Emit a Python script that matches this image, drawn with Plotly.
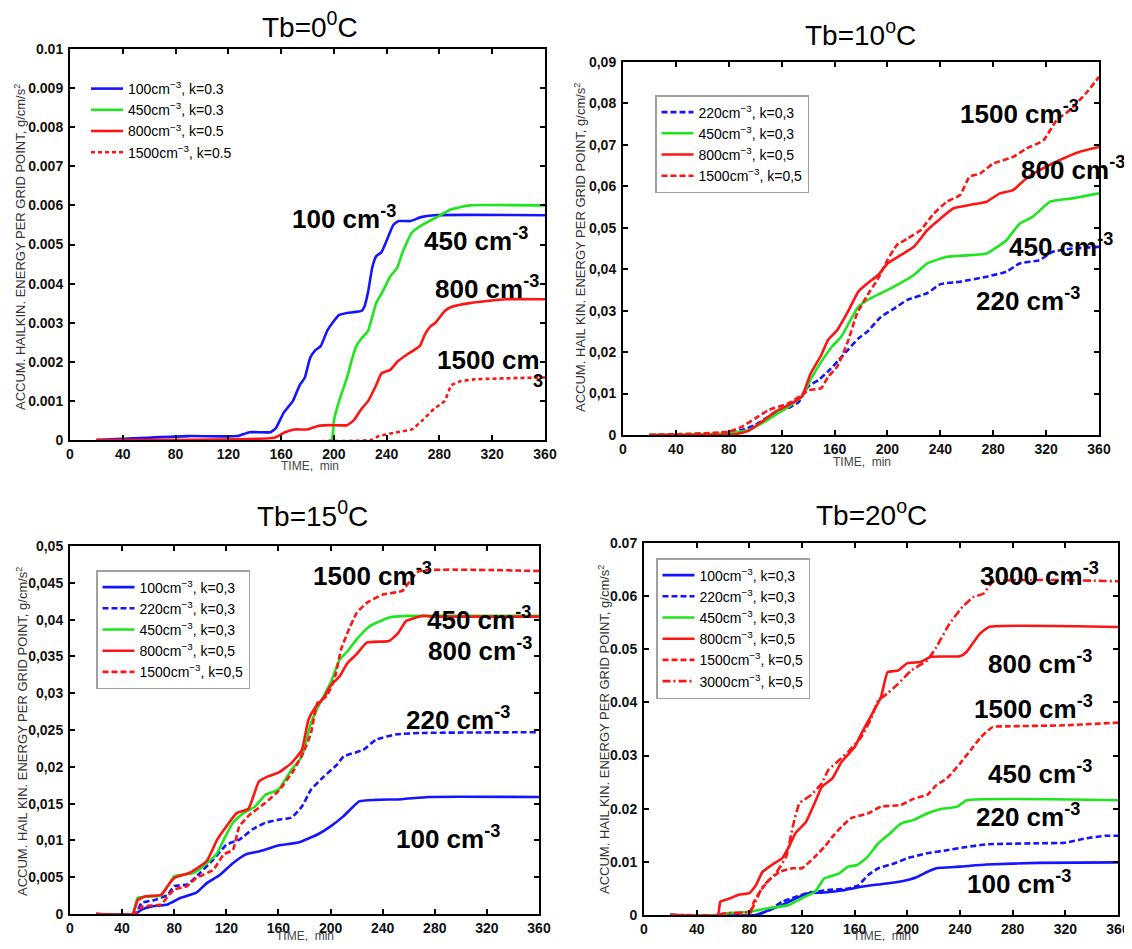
import plotly.graph_objects as go

# Figure size chosen so the page (with the browser's default 8px body margin) fits the 1132x949 window
FW, FH, OFF = 1124, 933, 8
FONT = "Arial, Liberation Sans, sans-serif"
BLUE, GREEN, RED = "#1414ff", "#1ee61e", "#ff1414"

# ---------------- DATA ----------------
# Panel 1: Tb=0C
p1_t_100 = [20, 90, 127, 136, 152, 156, 162, 169, 174, 178, 182, 186, 190, 195, 199, 204, 210, 221, 223, 226, 229, 232, 236, 240, 245, 249, 258, 266, 276, 360]
p1_v_100 = [0, 0.0001, 0.0001, 0.0002, 0.0002, 0.0003, 0.0007, 0.001, 0.0014, 0.0016, 0.0021, 0.0023, 0.0024, 0.0028, 0.003, 0.0032, 0.00325, 0.0033, 0.0034, 0.0038, 0.0044, 0.0047, 0.0048, 0.0051, 0.0055, 0.0056, 0.0056, 0.0057, 0.00575, 0.00575]
p1_t_450 = [20, 198, 200, 204, 210, 214, 217, 221, 226, 232, 237, 243, 248, 252, 259, 267, 278, 289, 303, 360]
p1_v_450 = [0, 0, 0.0005, 0.001, 0.0016, 0.0021, 0.0024, 0.0026, 0.0028, 0.0035, 0.0038, 0.0042, 0.0044, 0.0048, 0.0053, 0.0055, 0.0057, 0.0059, 0.006, 0.006]
p1_t_800 = [20, 155, 163, 170, 180, 188, 196, 210, 215, 221, 226, 232, 236, 243, 248, 256, 265, 269, 273, 277, 284, 289, 303, 330, 360]
p1_v_800 = [0, 0.00006, 0.0002, 0.00027, 0.00027, 0.00036, 0.00038, 0.00038, 0.0005, 0.0008, 0.001, 0.0014, 0.0017, 0.0018, 0.002, 0.0022, 0.0024, 0.0027, 0.0029, 0.003, 0.0033, 0.0034, 0.0035, 0.0036, 0.0036]
p1_t_1500 = [20, 228, 234, 248, 259, 267, 276, 284, 289, 296, 306, 360]
p1_v_1500 = [0, 0, 0.0001, 0.0002, 0.00027, 0.0005, 0.0008, 0.001, 0.0014, 0.0015, 0.00155, 0.0016]

# Panel 2: Tb=10C
p2_t_220 = [20, 70, 90, 100, 110, 120, 127, 133, 140, 148, 155, 163, 170, 178, 185, 195, 205, 215, 230, 240, 255, 275, 290, 300, 315, 325, 340, 360]
p2_v_220 = [0, 0.0003, 0.0012, 0.0024, 0.0044, 0.006, 0.0068, 0.008, 0.0117, 0.0133, 0.0153, 0.018, 0.0205, 0.0233, 0.025, 0.0285, 0.0305, 0.0326, 0.0342, 0.0364, 0.037, 0.0382, 0.0394, 0.0414, 0.0422, 0.0442, 0.045, 0.0454]
p2_t_450 = [20, 80, 95, 105, 115, 125, 135, 143, 150, 158, 165, 172, 178, 185, 195, 205, 220, 230, 245, 275, 290, 300, 310, 323, 340, 360]
p2_v_450 = [0, 0.0004, 0.0012, 0.0028, 0.0048, 0.0068, 0.0092, 0.014, 0.0177, 0.0213, 0.0237, 0.0277, 0.0309, 0.0326, 0.0342, 0.0358, 0.0386, 0.0414, 0.043, 0.0438, 0.047, 0.051, 0.0527, 0.0563, 0.0571, 0.0583]
p2_t_800 = [20, 85, 95, 105, 115, 125, 135, 142, 150, 155, 162, 170, 178, 185, 193, 200, 210, 220, 230, 240, 250, 262, 275, 285, 295, 305, 315, 330, 345, 360]
p2_v_800 = [0, 0.0002, 0.001, 0.0032, 0.0056, 0.0072, 0.0092, 0.0149, 0.0193, 0.0229, 0.0253, 0.0297, 0.0346, 0.0366, 0.0386, 0.0414, 0.0434, 0.0454, 0.0494, 0.0522, 0.0547, 0.0555, 0.0563, 0.0583, 0.0591, 0.0619, 0.0639, 0.0663, 0.0683, 0.0695]
p2_t_1500 = [20, 80, 90, 100, 110, 125, 135, 140, 150, 155, 162, 170, 177, 185, 193, 200, 207, 215, 225, 235, 245, 255, 262, 270, 280, 295, 305, 318, 328, 338, 350, 360]
p2_v_1500 = [0, 0.0008, 0.002, 0.004, 0.006, 0.0076, 0.0096, 0.0108, 0.0113, 0.014, 0.0165, 0.0225, 0.0293, 0.0338, 0.0378, 0.0422, 0.0458, 0.0474, 0.0494, 0.0534, 0.0563, 0.0579, 0.0623, 0.0631, 0.0655, 0.0671, 0.0691, 0.0711, 0.076, 0.0784, 0.0824, 0.0864]

# Panel 3: Tb=15C
p3_t_100 = [20, 50, 55, 62, 75, 85, 97, 105, 115, 125, 135, 145, 160, 175, 190, 200, 210, 222, 235, 255, 275, 360]
p3_v_100 = [0, 0, 0.0006, 0.001, 0.0013, 0.0022, 0.0029, 0.0042, 0.0053, 0.0069, 0.0081, 0.0085, 0.0093, 0.0097, 0.0108, 0.0119, 0.0133, 0.0153, 0.0155, 0.0156, 0.0159, 0.0159]
p3_t_220 = [20, 50, 55, 65, 75, 80, 90, 100, 110, 120, 130, 140, 150, 160, 170, 178, 185, 195, 205, 210, 225, 235, 250, 270, 360]
p3_v_220 = [0, 0, 0.0015, 0.0019, 0.0026, 0.0038, 0.004, 0.0056, 0.0074, 0.0094, 0.0101, 0.0115, 0.0124, 0.0128, 0.0131, 0.0146, 0.0169, 0.0187, 0.0203, 0.0214, 0.0223, 0.0237, 0.0244, 0.0246, 0.0247]
p3_t_450 = [20, 48, 52, 70, 75, 80, 95, 105, 113, 118, 125, 133, 142, 150, 160, 170, 178, 185, 192, 200, 207, 213, 220, 230, 245, 260, 360]
p3_v_450 = [0, 0, 0.0022, 0.0025, 0.0038, 0.0051, 0.0056, 0.0069, 0.0083, 0.0101, 0.0124, 0.0137, 0.0146, 0.0162, 0.0169, 0.0196, 0.0214, 0.026, 0.0287, 0.0314, 0.0346, 0.0357, 0.0373, 0.0391, 0.0403, 0.0405, 0.0405]
p3_t_800 = [20, 48, 52, 58, 70, 75, 80, 92, 105, 113, 120, 128, 137, 145, 152, 160, 170, 178, 183, 188, 195, 200, 207, 213, 220, 228, 245, 252, 258, 270, 280, 360]
p3_v_800 = [0, 0, 0.0019, 0.0024, 0.0026, 0.0038, 0.0049, 0.0056, 0.0072, 0.0101, 0.0119, 0.0137, 0.0143, 0.018, 0.0187, 0.0192, 0.0205, 0.0223, 0.0264, 0.028, 0.0294, 0.031, 0.0323, 0.0341, 0.0353, 0.0369, 0.0371, 0.0382, 0.0398, 0.0405, 0.0404, 0.0404]
p3_t_1500 = [20, 50, 55, 70, 75, 80, 90, 97, 110, 118, 125, 130, 138, 150, 160, 172, 180, 185, 190, 197, 203, 208, 213, 220, 228, 240, 255, 262, 268, 360]
p3_v_1500 = [0, 0, 0.001, 0.0013, 0.0024, 0.0033, 0.0038, 0.0049, 0.006, 0.0081, 0.0087, 0.0119, 0.0135, 0.0151, 0.0167, 0.0196, 0.0223, 0.0246, 0.0287, 0.0296, 0.0319, 0.0359, 0.0382, 0.0409, 0.0423, 0.0434, 0.0439, 0.0455, 0.0466, 0.0466]

# Panel 4: Tb=20C
p4_t_100 = [20, 85, 95, 105, 115, 125, 135, 150, 165, 180, 195, 207, 215, 222, 240, 260, 300, 360]
p4_v_100 = [0, 0, 0.0009, 0.0019, 0.0031, 0.0041, 0.0042, 0.0046, 0.0053, 0.0058, 0.0063, 0.0071, 0.0081, 0.0088, 0.0091, 0.0095, 0.0098, 0.0099]
p4_t_220 = [20, 85, 95, 105, 115, 125, 140, 155, 163, 170, 178, 190, 200, 215, 230, 245, 260, 300, 320, 335, 350, 360]
p4_v_220 = [0, 0, 0.0009, 0.0025, 0.0034, 0.0042, 0.0047, 0.005, 0.0056, 0.0075, 0.0088, 0.0097, 0.0107, 0.0116, 0.0122, 0.0128, 0.0133, 0.0135, 0.0136, 0.0144, 0.0149, 0.0149]
p4_t_450 = [20, 60, 62, 80, 95, 110, 122, 130, 137, 148, 155, 162, 170, 178, 187, 195, 205, 215, 225, 238, 245, 360]
p4_v_450 = [0, 0, 0.0003, 0.0006, 0.0013, 0.0019, 0.0034, 0.0044, 0.0069, 0.0078, 0.0091, 0.0094, 0.011, 0.0135, 0.0154, 0.0172, 0.0179, 0.0191, 0.0199, 0.0204, 0.0216, 0.0216]
p4_t_800 = [20, 56, 58, 65, 72, 80, 85, 90, 97, 105, 110, 115, 123, 130, 135, 143, 150, 160, 165, 172, 180, 185, 193, 200, 210, 218, 240, 245, 255, 262, 360]
p4_v_800 = [0, 0, 0.0025, 0.0031, 0.0038, 0.0041, 0.0056, 0.0081, 0.0094, 0.0107, 0.0128, 0.0154, 0.0175, 0.0213, 0.0241, 0.0257, 0.0288, 0.0316, 0.0341, 0.0373, 0.041, 0.0457, 0.046, 0.0474, 0.0476, 0.0486, 0.0487, 0.0495, 0.0529, 0.0542, 0.0542]
p4_t_1500 = [20, 80, 83, 88, 95, 103, 113, 120, 130, 137, 143, 150, 157, 170, 180, 195, 205, 215, 222, 230, 240, 248, 256, 265, 275, 320, 360]
p4_v_1500 = [0, 0, 0.0022, 0.0044, 0.0066, 0.0081, 0.0088, 0.0088, 0.011, 0.0128, 0.0147, 0.0166, 0.0182, 0.0191, 0.0204, 0.0207, 0.0219, 0.0226, 0.0244, 0.0257, 0.0285, 0.031, 0.0335, 0.0354, 0.0355, 0.0357, 0.0362]
p4_t_3000 = [20, 56, 60, 80, 83, 90, 100, 108, 113, 118, 127, 135, 140, 148, 155, 165, 172, 178, 185, 193, 203, 215, 222, 232, 242, 250, 258, 265, 360]
p4_v_3000 = [0, 0, 0.0003, 0.0006, 0.0016, 0.0053, 0.0078, 0.011, 0.0166, 0.021, 0.0226, 0.0248, 0.0273, 0.0291, 0.0307, 0.0335, 0.0367, 0.0404, 0.0417, 0.0435, 0.046, 0.0479, 0.0504, 0.0548, 0.058, 0.0598, 0.0605, 0.0627, 0.0628]

x_ticks = [0, 40, 80, 120, 160, 200, 240, 280, 320, 360]
p1_yticks = [0, 0.001, 0.002, 0.003, 0.004, 0.005, 0.006, 0.007, 0.008, 0.009, 0.01]
p1_yticktext = ["0", "0.001", "0.002", "0.003", "0.004", "0.005", "0.006", "0.007", "0.008", "0.009", "0.01"]
p2_yticks = [0, 0.01, 0.02, 0.03, 0.04, 0.05, 0.06, 0.07, 0.08, 0.09]
p2_yticktext = ["0", "0,01", "0,02", "0,03", "0,04", "0,05", "0,06", "0,07", "0,08", "0,09"]
p3_yticks = [0, 0.005, 0.01, 0.015, 0.02, 0.025, 0.03, 0.035, 0.04, 0.045, 0.05]
p3_yticktext = ["0", "0,005", "0,01", "0,015", "0,02", "0,025", "0,03", "0,035", "0,04", "0,045", "0,05"]
p4_yticks = [0, 0.01, 0.02, 0.03, 0.04, 0.05, 0.06, 0.07]
p4_yticktext = ["0", "0.01", "0.02", "0.03", "0.04", "0.05", "0.06", "0.07"]

titles = ["Tb=0<sup>0</sup>C", "Tb=10<sup>o</sup>C", "Tb=15<sup>0</sup>C", "Tb=20<sup>o</sup>C"]

# ---------------- LAYOUT HELPERS (reference-pixel -> paper) ----------------
def px(x):
    return (x - OFF) / FW

def py(y):
    return 1 - (y - OFF) / FH

# pixel frames in the reference: (left, right, top, bottom)
frames = [(70, 545, 49, 440), (623, 1099, 62, 435), (70, 539, 546, 914), (644, 1118, 543, 915)]
ymaxes = [0.01, 0.09, 0.05, 0.07]

fig = go.Figure()
DASH = "6px,3px"

def add(panel, t, v, name, color, dash, legend):
    ax = "" if panel == 1 else str(panel)
    fig.add_trace(go.Scatter(
        x=t, y=v, mode="lines", name=name,
        line=dict(color=color, width=2.6, dash=dash, shape="spline", smoothing=0.4),
        xaxis="x" + ax, yaxis="y" + ax, legend=legend))

sup = "<sup>\u22123</sup>"
add(1, p1_t_100, p1_v_100, "100cm" + sup + ", k=0.3", BLUE, "solid", "legend")
add(1, p1_t_450, p1_v_450, "450cm" + sup + ", k=0.3", GREEN, "solid", "legend")
add(1, p1_t_800, p1_v_800, "800cm" + sup + ", k=0.5", RED, "solid", "legend")
add(1, p1_t_1500, p1_v_1500, "1500cm" + sup + ", k=0.5", RED, "4px,3px", "legend")

add(2, p2_t_220, p2_v_220, "220cm" + sup + ", k=0,3", BLUE, DASH, "legend2")
add(2, p2_t_450, p2_v_450, "450cm" + sup + ", k=0,3", GREEN, "solid", "legend2")
add(2, p2_t_800, p2_v_800, "800cm" + sup + ", k=0,5", RED, "solid", "legend2")
add(2, p2_t_1500, p2_v_1500, "1500cm" + sup + ", k=0,5", RED, DASH, "legend2")

add(3, p3_t_100, p3_v_100, "100cm" + sup + ", k=0,3", BLUE, "solid", "legend3")
add(3, p3_t_220, p3_v_220, "220cm" + sup + ", k=0,3", BLUE, DASH, "legend3")
add(3, p3_t_450, p3_v_450, "450cm" + sup + ", k=0,3", GREEN, "solid", "legend3")
add(3, p3_t_800, p3_v_800, "800cm" + sup + ", k=0,5", RED, "solid", "legend3")
add(3, p3_t_1500, p3_v_1500, "1500cm" + sup + ", k=0,5", RED, DASH, "legend3")

add(4, p4_t_100, p4_v_100, "100cm" + sup + ", k=0,3", BLUE, "solid", "legend4")
add(4, p4_t_220, p4_v_220, "220cm" + sup + ", k=0,3", BLUE, DASH, "legend4")
add(4, p4_t_450, p4_v_450, "450cm" + sup + ", k=0,3", GREEN, "solid", "legend4")
add(4, p4_t_800, p4_v_800, "800cm" + sup + ", k=0,5", RED, "solid", "legend4")
add(4, p4_t_1500, p4_v_1500, "1500cm" + sup + ", k=0,5", RED, DASH, "legend4")
add(4, p4_t_3000, p4_v_3000, "3000cm" + sup + ", k=0,5", RED, "8px,3px,2px,3px", "legend4")

ytick_sets = [(p1_yticks, p1_yticktext), (p2_yticks, p2_yticktext),
              (p3_yticks, p3_yticktext), (p4_yticks, p4_yticktext)]

layout = dict(
    width=FW, height=FH, margin=dict(l=0, r=0, t=0, b=0, autoexpand=False),
    paper_bgcolor="white", plot_bgcolor="white",
    font=dict(family=FONT, color="black"),
    showlegend=True,
)

tickfont = dict(family=FONT, size=14, color="#111", weight="bold")
for i, (l, r, t, b) in enumerate(frames):
    ax = "" if i == 0 else str(i + 1)
    common = dict(showgrid=False, zeroline=False, showline=True, mirror="ticks",
                  linecolor="black", linewidth=2, ticks="inside", ticklen=5,
                  tickwidth=1.5, tickcolor="black", tickfont=tickfont, automargin=False)
    layout["xaxis" + ax] = dict(domain=[px(l), px(r)], range=[0, 360],
                                anchor="y" + ax, tickvals=x_ticks, **common)
    vals, texts = ytick_sets[i]
    layout["yaxis" + ax] = dict(domain=[py(b), py(t)], range=[0, ymaxes[i]],
                                anchor="x" + ax, tickvals=vals, ticktext=texts,
                                ticklabelstandoff=2, **common)

leg_font = dict(family=FONT, size=14, color="black")
layout["legend"] = dict(x=px(86), y=py(73), xanchor="left", yanchor="top",
                        bgcolor="rgba(255,255,255,0)", borderwidth=0, font=leg_font,
                        itemwidth=32)
layout["legend2"] = dict(x=px(655), y=py(95), xanchor="left", yanchor="top",
                         bgcolor="white", bordercolor="#a0a0a0", borderwidth=1.5, font=leg_font,
                         itemwidth=32)
layout["legend3"] = dict(x=px(96), y=py(570), xanchor="left", yanchor="top",
                         bgcolor="white", bordercolor="#a0a0a0", borderwidth=1.5, font=leg_font,
                         itemwidth=32)
layout["legend4"] = dict(x=px(656), y=py(558), xanchor="left", yanchor="top",
                         bgcolor="white", bordercolor="#a0a0a0", borderwidth=1.5, font=leg_font,
                         itemwidth=32)

fig.update_layout(**layout)

# ---------------- TEXT ----------------
def note(x, y, txt, font, **kw):
    fig.add_annotation(x=px(x), y=py(y), xref="paper", yref="paper", text=txt,
                       showarrow=False, xanchor="center", yanchor="middle", font=font, **kw)

title_pos = [(310, 25), (860, 33), (312, 514), (871, 513)]
for (x, y), txt in zip(title_pos, titles):
    note(x, y, txt, dict(family=FONT, size=28, color="black"))

ytitle_a = "ACCUM. HAILKIN. ENERGY PER GRID POINT, g/cm/s<sup>2</sup>"
ytitle_b = "ACCUM. HAIL KIN. ENERGY PER GRID POINT, g/cm/s<sup>2</sup>"
ytitle_pos = [(20, 247, ytitle_a), (580, 248, ytitle_b), (22, 732, ytitle_b), (604, 730, ytitle_b)]
for x, y, txt in ytitle_pos:
    note(x, y, txt, dict(family=FONT, size=13, color="#333"), textangle=-90)

xtitle_pos = [(310, 466), (862, 462), (305, 936), (882, 936)]
for x, y in xtitle_pos:
    note(x, y, "TIME,  min", dict(family=FONT, size=12, color="#444"))

big = dict(family=FONT, size=26, color="black", weight="bold")
lab = "<sup>-3</sup>"
labels = [
    ("x", "y", 208, 0.0057, "100 cm" + lab),
    ("x", "y", 308, 0.00512, "450 cm" + lab),
    ("x", "y", 316, 0.00391, "800 cm" + lab),
    ("x", "y", 317, 0.00205, "1500 cm"),
    ("x", "y", 355, 0.00150, "<sup>3</sup>"),
    ("x2", "y2", 300, 0.0777, "1500 cm" + lab),
    ("x2", "y2", 340, 0.0644, "800 cm" + lab),
    ("x2", "y2", 331, 0.0458, "450 cm" + lab),
    ("x2", "y2", 306, 0.0326, "220 cm" + lab),
    ("x3", "y3", 232, 0.0461, "1500 cm" + lab),
    ("x3", "y3", 314, 0.0402, "450 cm" + lab),
    ("x3", "y3", 315, 0.0359, "800 cm" + lab),
    ("x3", "y3", 298, 0.0266, "220 cm" + lab),
    ("x3", "y3", 290, 0.01046, "100 cm" + lab),
    ("x4", "y4", 300, 0.064, "3000 cm" + lab),
    ("x4", "y4", 301, 0.0476, "800 cm" + lab),
    ("x4", "y4", 296, 0.0391, "1500 cm" + lab),
    ("x4", "y4", 301, 0.0269, "450 cm" + lab),
    ("x4", "y4", 292, 0.0188, "220 cm" + lab),
    ("x4", "y4", 285, 0.0062, "100 cm" + lab),
]
for xr, yr, x, y, txt in labels:
    fig.add_annotation(x=x, y=y, xref=xr, yref=yr, text=txt, showarrow=False,
                       xanchor="center", yanchor="middle", font=big)

fig.write_html("out.html")
